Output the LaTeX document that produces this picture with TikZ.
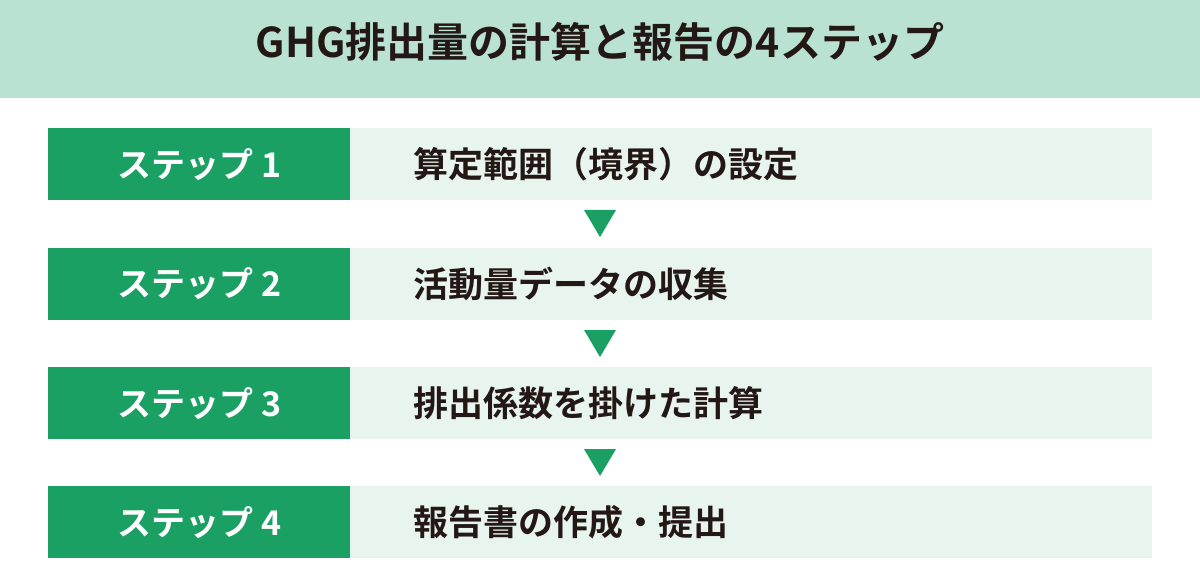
\documentclass[tikz,border=0pt]{standalone}
\usepackage{fontspec}
\setmainfont{Noto Sans CJK JP}[BoldFont={Noto Sans CJK JP Bold}]
\definecolor{bandc}{HTML}{B9E2D2}
\definecolor{darkg}{HTML}{1BA064}
\definecolor{lightg}{HTML}{E8F4EE}
\definecolor{inkc}{HTML}{231815}
\begin{document}
\begin{tikzpicture}[x=1pt,y=-1pt,
  band/.style={fill=bandc,draw=none,minimum width=1200pt,minimum height=98pt,inner sep=0pt,anchor=north west},
  ttl/.style={text=inkc,font=\bfseries\fontsize{41}{48}\selectfont,inner sep=0pt},
  stepbox/.style={fill=darkg,draw=none,minimum width=302pt,minimum height=72pt,inner sep=0pt,anchor=north west,text=white,font=\bfseries\fontsize{34}{40}\selectfont},
  itembox/.style={fill=lightg,draw=none,minimum width=802pt,minimum height=72pt,inner xsep=63pt,inner ysep=0pt,text width=676pt,align=left,anchor=north west,text=inkc,font=\bfseries\fontsize{35}{40}\selectfont},
  tri/.style={fill=darkg,draw=none}
]
\useasboundingbox (0,0) rectangle (1200,580);
\fill[white] (0,0) rectangle (1200,580);
\node[band] (band) at (0,0) {};
\node[ttl] (title) at (600,42) {GHG排出量の計算と報告の4ステップ};

\node[stepbox] (s1) at (48,128) {ステップ 1};
\node[itembox] (i1) at (350,128) {算定範囲（境界）の設定};
\node[stepbox] (s2) at (48,247.5) {ステップ 2};
\node[itembox] (i2) at (350,247.5) {活動量データの収集};
\node[stepbox] (s3) at (48,367) {ステップ 3};
\node[itembox] (i3) at (350,367) {排出係数を掛けた計算};
\node[stepbox] (s4) at (48,486) {ステップ 4};
\node[itembox] (i4) at (350,486) {報告書の作成・提出};

\fill[tri] (584,210) -- (616,210) -- (600,237) -- cycle;
\fill[tri] (584,330) -- (616,330) -- (600,357) -- cycle;
\fill[tri] (584,449) -- (616,449) -- (600,476) -- cycle;
\end{tikzpicture}
\end{document}
